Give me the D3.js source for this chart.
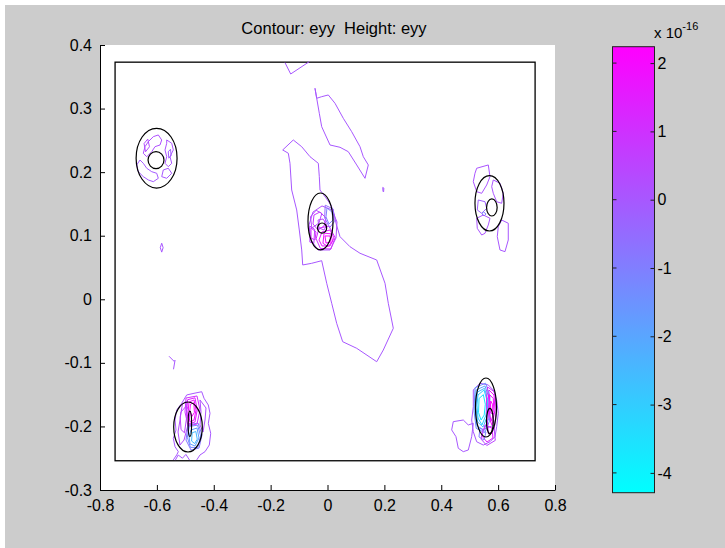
<!DOCTYPE html>
<html>
<head>
<meta charset="utf-8">
<script src="https://d3js.org/d3.v7.min.js"></script>
<style>
  body { margin: 0; background: #fff; }
  svg text { font-family: "Liberation Sans", Arial, sans-serif; fill: #000; }
</style>
</head>
<body>
<svg id="chart" width="725" height="548"></svg>
<script>
// ---------- data ----------
var xTicks = [-0.8, -0.6, -0.4, -0.2, 0, 0.2, 0.4, 0.6, 0.8];
var yTicks = [-0.3, -0.2, -0.1, 0, 0.1, 0.2, 0.3, 0.4];
var cbTicks = [-4, -3, -2, -1, 0, 1, 2];
var cbRange = [-4.29, 2.24];            // eyy, units of 1e-16
var geomRect = [-0.747, -0.254, 0.730, 0.373];   // x0, y0, x1, y1

// black geometry ellipses: cx, cy, rx, ry
var ellipses = [
  [-0.601, 0.222, 0.072, 0.047], [-0.603, 0.219, 0.028, 0.0134],
  [-0.0246, 0.1224, 0.044, 0.0448], [-0.019, 0.112, 0.016, 0.008],
  [0.5696, 0.151, 0.051, 0.0436], [0.578, 0.1444, 0.0186, 0.0134],
  [-0.4905, -0.2009, 0.0503, 0.0393], [-0.484, -0.196, 0.006, 0.02],
  [0.5573, -0.1702, 0.0369, 0.0464], [0.571, -0.1915, 0.012, 0.02]
];

// contour lines: level (x1e-16), closed?, points
var openField = [
  { level: 0, closed: false, pts: [[-0.1494, 0.3722], [-0.1294, 0.3544], [-0.064, 0.3738]] },
  { level: 0, closed: true, pts: [[-0.044, 0.3319], [-0.038, 0.3162], [-0.0288, 0.2926], [-0.0204, 0.2715], [0.0088, 0.2427], [0.044, 0.2391], [0.0731, 0.2322], [0.1027, 0.2113], [0.1319, 0.1903], [0.1435, 0.2113], [0.1259, 0.2243], [0.1143, 0.24], [0.0851, 0.2636], [0.0556, 0.2847], [0.0264, 0.3083], [0.0028, 0.3214], [-0.0204, 0.3187], [-0.038, 0.3162]] },
  { level: 0, closed: true, pts: [[-0.1575, 0.2349], [-0.1203, 0.2506], [-0.0907, 0.24], [-0.0615, 0.2243], [-0.0323, 0.2139], [-0.0288, 0.1929], [-0.0264, 0.1719], [-0.0053, 0.1594], [0.0123, 0.1483], [0.0229, 0.1353], [0.0299, 0.1196], [0.044, 0.0985], [0.0791, 0.0827], [0.1143, 0.0724], [0.173, 0.0618], [0.2022, 0.0252], [0.2138, -0.0063], [0.2314, -0.0456], [0.1962, -0.0798], [0.173, -0.0982], [0.1027, -0.0771], [0.0534, -0.0667], [0.0323, -0.0378], [0.0148, -0.0063], [-0.0028, 0.0252], [-0.0204, 0.0607], [-0.0556, 0.0566], [-0.0872, 0.054], [-0.0907, 0.0776], [-0.0992, 0.109], [-0.1083, 0.1405], [-0.1259, 0.1719], [-0.1319, 0.2139], [-0.1378, 0.2297]] },
  { level: 0, closed: true, pts: [[0.1942, 0.1759], [0.1982, 0.1749], [0.1972, 0.1689], [0.1952, 0.1699]] },
  { level: 0, closed: true, pts: [[-0.583, 0.0882], [-0.578, 0.0812], [-0.583, 0.0742], [-0.588, 0.0812]] },
  { level: 0, closed: false, pts: [[-0.5573, -0.0896], [-0.5397, -0.0975], [-0.5362, -0.0959], [-0.5415, -0.1101]] },
  { level: 0, closed: true, pts: [[0.4423, -0.1925], [0.4775, -0.1899], [0.4951, -0.1977], [0.5127, -0.1951], [0.507, -0.2161], [0.4951, -0.2371], [0.4775, -0.2397], [0.4599, -0.2344], [0.4518, -0.2161], [0.4367, -0.2055]] }
];

var topLeftLines = [
  { level: 0.2, closed: true, pts: [[-0.6301, 0.2479], [-0.6125, 0.2558], [-0.5949, 0.2585], [-0.583, 0.2506], [-0.589, 0.2427], [-0.6065, 0.2401], [-0.6181, 0.2322], [-0.6357, 0.2243], [-0.6477, 0.2297], [-0.6417, 0.2401]] },
  { level: 0.1, closed: true, pts: [[-0.5654, 0.2506], [-0.5478, 0.2454], [-0.5422, 0.2349], [-0.5538, 0.2243], [-0.5478, 0.2139], [-0.5598, 0.2086], [-0.5714, 0.2139], [-0.5654, 0.2243], [-0.5714, 0.2349], [-0.5654, 0.2454]] },
  { level: -0.1, closed: true, pts: [[-0.6593, 0.2191], [-0.6709, 0.2113], [-0.6653, 0.2007], [-0.6477, 0.1929], [-0.6301, 0.1877], [-0.6125, 0.185], [-0.5949, 0.1903], [-0.6006, 0.1982], [-0.6181, 0.2007], [-0.6357, 0.2061], [-0.6477, 0.2139]] },
  { level: 0, closed: true, pts: [[-0.5774, 0.2034], [-0.5598, 0.2061], [-0.5478, 0.1982], [-0.5654, 0.1903], [-0.583, 0.1929]] },
  { level: 0.3, closed: true, pts: [[-0.645, 0.245], [-0.632, 0.252], [-0.626, 0.240], [-0.640, 0.232]] },
  { level: -0.2, closed: true, pts: [[-0.560, 0.232], [-0.552, 0.236], [-0.550, 0.226], [-0.558, 0.222]] }
];

var rightLines = [
  { level: 0.1, closed: true, pts: [[0.5246, 0.2061], [0.5654, 0.2113], [0.5714, 0.1929], [0.5598, 0.1798], [0.5422, 0.1667], [0.5246, 0.1693], [0.5127, 0.185], [0.5186, 0.1982]] },
  { level: 0.1, closed: true, pts: [[0.583, 0.1877], [0.6065, 0.1825], [0.6181, 0.1667], [0.6125, 0.151], [0.5949, 0.1535], [0.583, 0.1667], [0.5774, 0.1771]] },
  { level: -0.2, closed: true, pts: [[0.5302, 0.1562], [0.5538, 0.1535], [0.5598, 0.1431], [0.5422, 0.1353], [0.5267, 0.1405]] },
  { level: -1.0, closed: true, pts: [[0.5478, 0.1378], [0.5573, 0.1342], [0.5503, 0.131], [0.5432, 0.1342]] },
  { level: 0, closed: true, pts: [[0.6125, 0.1247], [0.6357, 0.1196], [0.6357, 0.0933], [0.6241, 0.0749], [0.6065, 0.0776], [0.597, 0.0985], [0.6006, 0.1142]] },
  { level: 0.1, closed: true, pts: [[0.5246, 0.1274], [0.5478, 0.1326], [0.5714, 0.1274], [0.5654, 0.1169], [0.5538, 0.1038], [0.5422, 0.1011], [0.5267, 0.1116]] }
];

var centerLines = [
  { level: 0.2, closed: true, pts: [[-0.051, 0.1373], [-0.0193, 0.1468], [0.0158, 0.1405], [0.0334, 0.1216], [0.0299, 0.0964], [0.0088, 0.0776], [-0.0334, 0.0776], [-0.058, 0.0933], [-0.0651, 0.1169]] },
  { level: 0.8, closed: true, pts: [[-0.0475, 0.1326], [-0.0264, 0.1373], [-0.0053, 0.1279], [-0.0123, 0.1153], [-0.0334, 0.109], [-0.051, 0.1185]] },
  { level: 1.5, closed: true, pts: [[-0.0193, 0.1059], [0.0088, 0.109], [0.0229, 0.0964], [0.0088, 0.0839], [-0.0193, 0.0839], [-0.0299, 0.0933]] },
  { level: 2.0, closed: true, pts: [[-0.0088, 0.0996], [0.0088, 0.0996], [0.0123, 0.0901], [-0.0053, 0.0885]] },
  { level: -1.0, closed: true, pts: [[-0.0018, 0.1436], [0.0158, 0.1373], [0.0193, 0.1247], [0.0053, 0.1185], [-0.0053, 0.1295]] },
  { level: 1.2, closed: true, pts: [[-0.058, 0.1122], [-0.0404, 0.1059], [-0.044, 0.0933], [-0.058, 0.0964]] },
  { level: 0.5, closed: true, pts: [[-0.0334, 0.1247], [-0.0158, 0.1263], [-0.0018, 0.1169], [-0.0123, 0.109], [-0.0299, 0.1122]] },
  { level: 1.0, closed: true, pts: [[-0.030, 0.112], [0.005, 0.115], [0.027, 0.097], [0.012, 0.079], [-0.025, 0.080], [-0.040, 0.095]] },
  { level: 1.8, closed: true, pts: [[-0.012, 0.104], [0.012, 0.103], [0.018, 0.091], [0.002, 0.083], [-0.016, 0.088]] },
  { level: 0.4, closed: true, pts: [[-0.060, 0.130], [-0.040, 0.140], [-0.020, 0.135], [-0.030, 0.120], [-0.055, 0.112]] },
  { level: -0.5, closed: true, pts: [[-0.008, 0.148], [0.020, 0.142], [0.024, 0.122], [0.008, 0.113], [-0.010, 0.128]] },
  { level: 0.6, closed: true, pts: [[-0.062, 0.115], [-0.045, 0.110], [-0.048, 0.088], [-0.062, 0.090]] }
];

var bottomLeftLines = [
  { level: 0, closed: false, pts: [[-0.5422, -0.2527], [-0.5302, -0.2448], [-0.5246, -0.2397], [-0.5362, -0.2319], [-0.5422, -0.2187], [-0.5327, -0.2056], [-0.5362, -0.1899], [-0.5302, -0.1742], [-0.5127, -0.1636], [-0.4951, -0.1505], [-0.4694, -0.1479], [-0.4423, -0.1454], [-0.4342, -0.1557], [-0.4191, -0.1663], [-0.4132, -0.1793], [-0.4191, -0.1951], [-0.4107, -0.2108], [-0.4156, -0.2292], [-0.4307, -0.2397], [-0.4483, -0.2449], [-0.4599, -0.2527]] },
  { level: 0.3, closed: true, pts: [[-0.5151, -0.1773], [-0.4965, -0.1678], [-0.4835, -0.1773], [-0.4905, -0.1977], [-0.5046, -0.2214], [-0.5186, -0.2292], [-0.5257, -0.2088], [-0.5186, -0.1899]] },
  { level: 1.8, closed: true, pts: [[-0.487, -0.1616], [-0.4694, -0.1584], [-0.4624, -0.1742], [-0.4694, -0.1899], [-0.4835, -0.1931], [-0.4905, -0.1773]] },
  { level: -1.8, closed: true, pts: [[-0.48, -0.2056], [-0.4589, -0.2025], [-0.4518, -0.2182], [-0.4659, -0.2308], [-0.4835, -0.2276], [-0.487, -0.2151]] },
  { level: -0.8, closed: true, pts: [[-0.4905, -0.1977], [-0.4553, -0.1946], [-0.4413, -0.2135], [-0.4518, -0.234], [-0.48, -0.2371], [-0.4975, -0.2214]] },
  { level: 1.0, closed: true, pts: [[-0.4975, -0.1553], [-0.4589, -0.1521], [-0.4483, -0.1742], [-0.4589, -0.1962], [-0.4905, -0.1993], [-0.5011, -0.1773]] },
  { level: 0.2, closed: true, pts: [[-0.4483, -0.1584], [-0.4272, -0.171], [-0.4307, -0.1899], [-0.4378, -0.2088], [-0.4483, -0.1977], [-0.4448, -0.1773]] },
  { level: 1.5, closed: true, pts: [[-0.492, -0.158], [-0.466, -0.155], [-0.458, -0.174], [-0.466, -0.193], [-0.487, -0.196], [-0.495, -0.176]] },
  { level: 2.1, closed: true, pts: [[-0.482, -0.165], [-0.470, -0.163], [-0.468, -0.178], [-0.478, -0.185], [-0.484, -0.175]] },
  { level: -1.2, closed: true, pts: [[-0.486, -0.200], [-0.457, -0.198], [-0.446, -0.215], [-0.456, -0.233], [-0.482, -0.233], [-0.493, -0.217]] },
  { level: -2.5, closed: true, pts: [[-0.476, -0.210], [-0.463, -0.208], [-0.458, -0.220], [-0.467, -0.227], [-0.478, -0.223]] },
  { level: 0.5, closed: true, pts: [[-0.510, -0.165], [-0.497, -0.160], [-0.495, -0.185], [-0.503, -0.210], [-0.515, -0.205], [-0.518, -0.185]] },
  { level: 0, closed: false, pts: [[-0.535, -0.253], [-0.525, -0.245], [-0.510, -0.250], [-0.498, -0.244], [-0.485, -0.253]] }
];

var bottomRightLines = [
  { level: 0, closed: true, pts: [[0.5127, -0.1427], [0.5362, -0.1321], [0.5654, -0.1348], [0.583, -0.1427], [0.5949, -0.1585], [0.6006, -0.1794], [0.5949, -0.2005], [0.589, -0.2162], [0.5714, -0.2241], [0.5478, -0.2293], [0.5246, -0.2241], [0.5127, -0.2083], [0.507, -0.1899], [0.5127, -0.169]] },
  { level: -2.0, closed: true, pts: [[0.5222, -0.1427], [0.5538, -0.1364], [0.5679, -0.1553], [0.5679, -0.1868], [0.5503, -0.2056], [0.5257, -0.1993], [0.5186, -0.1742]] },
  { level: -3.0, closed: true, pts: [[0.5292, -0.1506], [0.5503, -0.1427], [0.5608, -0.1585], [0.5573, -0.182], [0.5432, -0.1977], [0.5292, -0.1868], [0.5257, -0.1663]] },
  { level: 2.0, closed: true, pts: [[0.5679, -0.1427], [0.5854, -0.1506], [0.589, -0.1742], [0.5784, -0.1977], [0.5679, -0.1868], [0.5644, -0.1616]] },
  { level: 1.5, closed: true, pts: [[0.5538, -0.1977], [0.5784, -0.2025], [0.5819, -0.2182], [0.5608, -0.2245], [0.5432, -0.2151]] },
  { level: -1.0, closed: true, pts: [[0.5362, -0.2025], [0.5573, -0.2088], [0.5503, -0.2214], [0.5327, -0.2166]] },
  { level: -2.5, closed: true, pts: [[0.527, -0.146], [0.552, -0.140], [0.563, -0.157], [0.562, -0.184], [0.547, -0.201], [0.528, -0.193], [0.522, -0.171]] },
  { level: -3.5, closed: true, pts: [[0.533, -0.156], [0.548, -0.150], [0.555, -0.165], [0.551, -0.182], [0.540, -0.190], [0.531, -0.178]] },
  { level: -1.5, closed: true, pts: [[0.519, -0.139], [0.556, -0.132], [0.571, -0.152], [0.571, -0.190], [0.553, -0.210], [0.523, -0.203], [0.515, -0.175]] },
  { level: 1.0, closed: true, pts: [[0.563, -0.138], [0.588, -0.146], [0.594, -0.175], [0.586, -0.205], [0.566, -0.212], [0.560, -0.180], [0.559, -0.155]] },
  { level: 1.8, closed: true, pts: [[0.570, -0.150], [0.583, -0.156], [0.585, -0.178], [0.575, -0.192], [0.568, -0.175]] },
  { level: 2.2, closed: true, pts: [[0.574, -0.160], [0.580, -0.165], [0.579, -0.180], [0.572, -0.178]] },
  { level: 0.5, closed: true, pts: [[0.545, -0.205], [0.585, -0.198], [0.590, -0.222], [0.560, -0.230], [0.540, -0.220]] }
];

// ---------- layout ----------
var W = 725, H = 548;
var plot = { left: 100, right: 555, top: 45, bottom: 490 };
var cb = { left: 612.5, width: 42, top: 46.7, bottom: 492.7 };

var svg = d3.select("#chart");

svg.append("rect").attr("x", 5).attr("y", 5).attr("width", W - 5).attr("height", H - 5)
  .attr("fill", "#cccccc");

var x = d3.scaleLinear().domain([-0.8, 0.8]).range([plot.left, plot.right]);
var y = d3.scaleLinear().domain([-0.3, 0.4]).range([plot.bottom, plot.top]);
var color = d3.scaleLinear().domain(cbRange).range(["#00ffff", "#ff00ff"]);

svg.append("rect")
  .attr("x", plot.left).attr("y", plot.top)
  .attr("width", plot.right - plot.left).attr("height", plot.bottom - plot.top)
  .attr("fill", "#fff");

// geometry boundary
svg.append("rect")
  .attr("x", x(geomRect[0])).attr("y", y(geomRect[3]))
  .attr("width", x(geomRect[2]) - x(geomRect[0]))
  .attr("height", y(geomRect[1]) - y(geomRect[3]))
  .attr("fill", "none").attr("stroke", "#000").attr("stroke-width", 1.3);

// contour lines
var allLines = [].concat(openField, topLeftLines, rightLines, centerLines, bottomLeftLines, bottomRightLines);
var lineGen = d3.line().x(function(d) { return x(d[0]); }).y(function(d) { return y(d[1]); });

svg.append("g").selectAll("path")
  .data(allLines)
  .enter().append("path")
  .attr("d", function(d) {
    return lineGen.curve(d.closed ? d3.curveLinearClosed : d3.curveLinear)(d.pts);
  })
  .attr("fill", "none")
  .attr("stroke", function(d) { return color(d.level); })
  .attr("stroke-width", 1)
  .attr("stroke-linejoin", "round");

// ellipses
svg.append("g").selectAll("ellipse")
  .data(ellipses)
  .enter().append("ellipse")
  .attr("cx", function(d) { return x(d[0]); })
  .attr("cy", function(d) { return y(d[1]); })
  .attr("rx", function(d) { return x(d[0] + d[2]) - x(d[0]); })
  .attr("ry", function(d) { return y(d[1] - d[3]) - y(d[1]); })
  .attr("fill", "none").attr("stroke", "#000").attr("stroke-width", 1.2);

// axes (MATLAB style, ticks inward, no box, plain hyphen minus)
var fmt = function(d) { return String(d); };

var gx = svg.append("g")
  .attr("transform", "translate(0," + plot.bottom + ")")
  .call(d3.axisBottom(x).tickValues(xTicks).tickFormat(fmt).tickSizeInner(-5).tickSizeOuter(0).tickPadding(10));
var gy = svg.append("g")
  .attr("transform", "translate(" + plot.left + ",0)")
  .call(d3.axisLeft(y).tickValues(yTicks).tickFormat(fmt).tickSizeInner(-5).tickSizeOuter(0).tickPadding(8));

[gx, gy].forEach(function(g) {
  g.select(".domain").attr("stroke", "#000");
  g.selectAll("line").attr("stroke", "#000");
  g.selectAll("text").style("font-size", "16px").attr("fill", "#000");
});

// title
svg.append("text")
  .attr("x", 334).attr("y", 34)
  .attr("text-anchor", "middle")
  .style("font-size", "16.5px")
  .style("white-space", "pre")
  .text("Contour: eyy  Height: eyy");

// colorbar
var defs = svg.append("defs");
var grad = defs.append("linearGradient").attr("id", "cool")
  .attr("x1", 0).attr("y1", 1).attr("x2", 0).attr("y2", 0);
grad.append("stop").attr("offset", "0%").attr("stop-color", color(cbRange[0]));
grad.append("stop").attr("offset", "100%").attr("stop-color", color(cbRange[1]));

var cy = d3.scaleLinear().domain(cbRange).range([cb.bottom, cb.top]);

svg.append("rect")
  .attr("x", cb.left).attr("y", cb.top)
  .attr("width", cb.width).attr("height", cb.bottom - cb.top)
  .attr("fill", "url(#cool)").attr("stroke", "#222").attr("stroke-width", 1);

var gc = svg.append("g")
  .attr("transform", "translate(" + (cb.left + cb.width) + ",0)")
  .call(d3.axisRight(cy).tickValues(cbTicks).tickFormat(fmt).tickSizeInner(-4).tickSizeOuter(0).tickPadding(3));
gc.select(".domain").remove();
gc.selectAll("line").attr("stroke", "#222");
gc.selectAll("text").style("font-size", "16px").attr("fill", "#000");

// left-edge ticks of the colorbar
svg.append("g").selectAll("line")
  .data(cbTicks)
  .enter().append("line")
  .attr("x1", cb.left).attr("x2", cb.left + 4)
  .attr("y1", function(d) { return cy(d); }).attr("y2", function(d) { return cy(d); })
  .attr("stroke", "#222");

// exponent label
var ex = svg.append("text").attr("x", 654).attr("y", 38).style("font-size", "15px");
ex.append("tspan").text("x 10");
ex.append("tspan").attr("dy", -8).style("font-size", "11px").text("-16");
</script>
</body>
</html>
